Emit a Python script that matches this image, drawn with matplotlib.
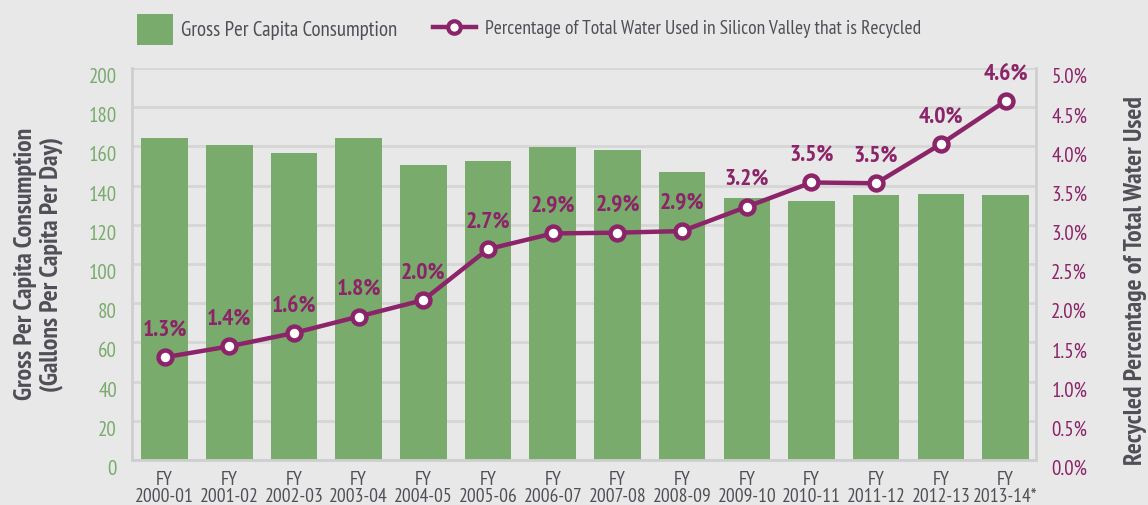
import matplotlib
matplotlib.use("Agg")
import matplotlib.pyplot as plt
from matplotlib.patches import Patch
from matplotlib.lines import Line2D
from matplotlib.ticker import FuncFormatter

# data
years = ["2000-01", "2001-02", "2002-03", "2003-04", "2004-05", "2005-06", "2006-07",
         "2007-08", "2008-09", "2009-10", "2010-11", "2011-12", "2012-13", "2013-14*"]
per_capita = [164.5, 160.7, 156.6, 164.5, 150.5, 152.6, 159.7,
              158.2, 146.9, 133.7, 132.1, 135.2, 135.7, 135.2]
recycled_pct = [1.31, 1.45, 1.62, 1.83, 2.04, 2.69, 2.89,
                2.90, 2.92, 3.23, 3.54, 3.53, 4.03, 4.58]

left_ticks = [0, 20, 40, 60, 80, 100, 120, 140, 160, 180, 200]
right_ticks = [0, 0.5, 1.0, 1.5, 2.0, 2.5, 3.0, 3.5, 4.0, 4.5, 5.0]

# colours
bg = "#e8e8e8"
green = "#79ab6c"
purple = "#8b2468"
grid_col = "#d6d6d6"
text_col = "#4f4f57"

plt.rcParams["font.family"] = ["PT Sans Narrow", "DejaVu Sans"]

fig = plt.figure(figsize=(11.48, 5.05), dpi=100, facecolor=bg)
ax = fig.add_axes([0.1152, 0.0891, 0.7872, 0.7762], facecolor=bg)

x = list(range(len(years)))

# bars
ax.bar(x, per_capita, width=0.72, color=green, zorder=2)
ax.set_ylim(0, 200)
ax.set_xlim(-0.5, 13.47)
ax.set_yticks(left_ticks)
ax.yaxis.grid(True, color=grid_col, linewidth=2, zorder=0)
ax.set_axisbelow(True)
ax.set_xticks(x)
ax.set_xticklabels(["FY\n" + y for y in years], fontsize=14, color=text_col,
                   linespacing=0.95)
ax.tick_params(axis="x", length=0, pad=8)
ax.tick_params(axis="y", length=0, pad=11, labelsize=15, labelcolor=green)
for lbl in ax.get_yticklabels():
    lbl.set_verticalalignment("top")
ax.spines["top"].set_visible(False)
for side in ["left", "right", "bottom"]:
    ax.spines[side].set_color("#cfcfcf")
    ax.spines[side].set_linewidth(2)

ax.set_ylabel("Gross Per Capita Consumption\n(Gallons Per Capita Per Day)",
              fontsize=18.5, fontweight="bold", color=text_col, linespacing=1.1)
ax.yaxis.set_label_coords(-0.077, 0.5)

# recycled share line on right axis
ax2 = ax.twinx()
ax2.set_ylim(0, 5.0)
ax2.set_yticks(right_ticks)
ax2.yaxis.set_major_formatter(FuncFormatter(lambda v, p: f"{v:.1f}%"))
ax2.tick_params(axis="y", length=0, pad=11, labelsize=15, labelcolor=purple)
for lbl in ax2.get_yticklabels():
    lbl.set_verticalalignment("top")
for side in ["top", "left", "right", "bottom"]:
    ax2.spines[side].set_visible(False)
ax2.plot(x, recycled_pct, color=purple, linewidth=3.2, marker="o", markersize=10,
         markerfacecolor="white", markeredgecolor=purple, markeredgewidth=3.2,
         zorder=3)
for xi, v in zip(x, recycled_pct):
    ax2.annotate(f"{v:.1f}%", (xi, v), xytext=(0, 12), textcoords="offset points",
                 ha="center", va="bottom", fontsize=17, fontweight="bold",
                 color=purple)
ax2.set_ylabel("Recycled Percentage of Total Water Used", fontsize=18.5,
               fontweight="bold", color=text_col)
ax2.yaxis.set_label_coords(1.097, 0.457)

# legend across the top
fig.legend([Patch(facecolor=green, edgecolor="none")],
           ["Gross Per Capita Consumption"],
           loc="center left", bbox_to_anchor=(0.119, 0.942), frameon=False,
           fontsize=15, labelcolor=text_col, handlelength=1.75, handleheight=1.95,
           handletextpad=0.4, borderpad=0, borderaxespad=0)
fig.legend([Line2D([0], [0], color=purple, linewidth=3.2, marker="o", markersize=9,
                   markerfacecolor="white", markeredgecolor=purple,
                   markeredgewidth=3)],
           ["Percentage of Total Water Used in Silicon Valley that is Recycled"],
           loc="center left", bbox_to_anchor=(0.377, 0.942), frameon=False,
           fontsize=14, labelcolor=text_col, handlelength=2.2,
           handletextpad=0.5, borderpad=0, borderaxespad=0)

fig.savefig("out.png", dpi=100, facecolor=bg)
